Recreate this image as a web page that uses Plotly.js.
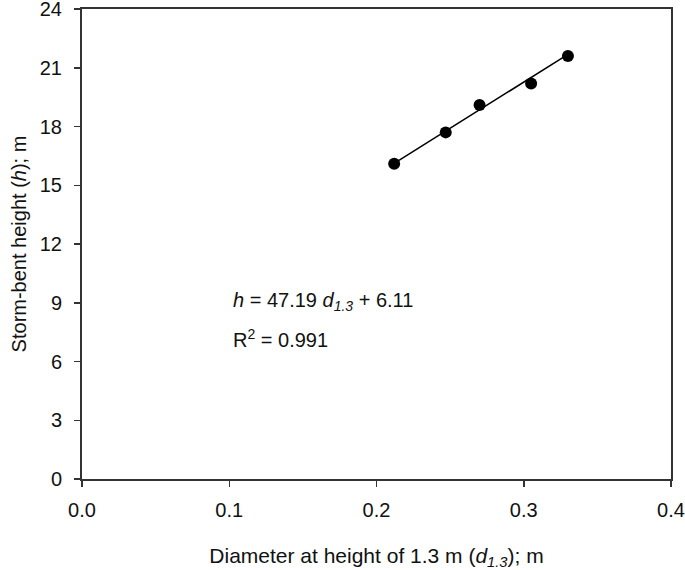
<!DOCTYPE html>
<html>
<head>
<meta charset="utf-8">
<script src="https://cdn.plot.ly/plotly-3.0.1.min.js"></script>
<style>
  html, body { margin: 0; padding: 0; background: #fff; }
  #chart { width: 685px; height: 570px; }
</style>
</head>
<body>
<div id="chart"></div>
<script>
// measured trees: diameter at 1.3 m vs storm-bent height
const diameter = [0.212, 0.247, 0.270, 0.305, 0.330];
const height = [16.1, 17.7, 19.1, 20.2, 21.6];

// linear fit reported on the chart
const fitSlope = 47.19;
const fitIntercept = 6.11;
const fitR2 = 0.991;

const xTicks = [0, 0.1, 0.2, 0.3, 0.4];
const yTicks = [0, 3, 6, 9, 12, 15, 18, 21, 24];

const FONT = "Liberation Sans, Arial, sans-serif";
const FS = 20;

const fitX = [Math.min(...diameter), Math.max(...diameter)];
const fitY = fitX.map((d) => fitSlope * d + fitIntercept);

const fitLine = {
  x: fitX,
  y: fitY,
  mode: "lines",
  line: { color: "#000", width: 1.5 },
  hoverinfo: "skip",
  type: "scatter",
};

const points = {
  x: diameter,
  y: height,
  mode: "markers",
  marker: { color: "#000", size: 12 },
  type: "scatter",
};

const axisCommon = {
  showline: true,
  mirror: true,
  linecolor: "#333",
  linewidth: 2,
  showgrid: false,
  zeroline: false,
  ticks: "outside",
  ticklen: 6,
  tickwidth: 1.5,
  tickcolor: "#333",
  ticklabeloverflow: "allow",
  tickfont: { family: FONT, size: FS, color: "#111" },
};

const layout = {
  width: 685,
  height: 570,
  showlegend: false,
  paper_bgcolor: "#fff",
  plot_bgcolor: "#fff",
  font: { family: FONT, size: FS, color: "#111" },
  margin: { l: 82, r: 14, t: 9, b: 91 },
  xaxis: {
    ...axisCommon,
    range: [0, 0.4],
    tickvals: xTicks,
    ticktext: xTicks.map((v) => v.toFixed(1)),
    ticklabelstandoff: 6,
    title: {
      text: "Diameter at height of 1.3 m (<i>d<sub>1.3</sub></i>); m",
      font: { family: FONT, size: 21, color: "#111" },
      standoff: 30,
    },
  },
  yaxis: {
    ...axisCommon,
    range: [0, 24],
    tickvals: yTicks,
    ticktext: yTicks.map(String),
    ticklabelstandoff: 8,
    title: {
      text: "Storm-bent height (<i>h</i>); m",
      font: { family: FONT, size: FS, color: "#111" },
      standoff: 8,
    },
  },
  annotations: [
    {
      x: 0.101,
      y: 9.05,
      xref: "x",
      yref: "y",
      xanchor: "left",
      yanchor: "middle",
      showarrow: false,
      text: `<i>h</i> = ${fitSlope} <i>d<sub>1.3</sub></i> + ${fitIntercept}`,
      font: { family: FONT, size: FS, color: "#111" },
    },
    {
      x: 0.101,
      y: 7.2,
      xref: "x",
      yref: "y",
      xanchor: "left",
      yanchor: "middle",
      showarrow: false,
      text: `R<sup>2</sup> = ${fitR2}`,
      font: { family: FONT, size: FS, color: "#111" },
    },
  ],
};

Plotly.newPlot("chart", [fitLine, points], layout, { displayModeBar: false, staticPlot: true });
</script>
</body>
</html>
